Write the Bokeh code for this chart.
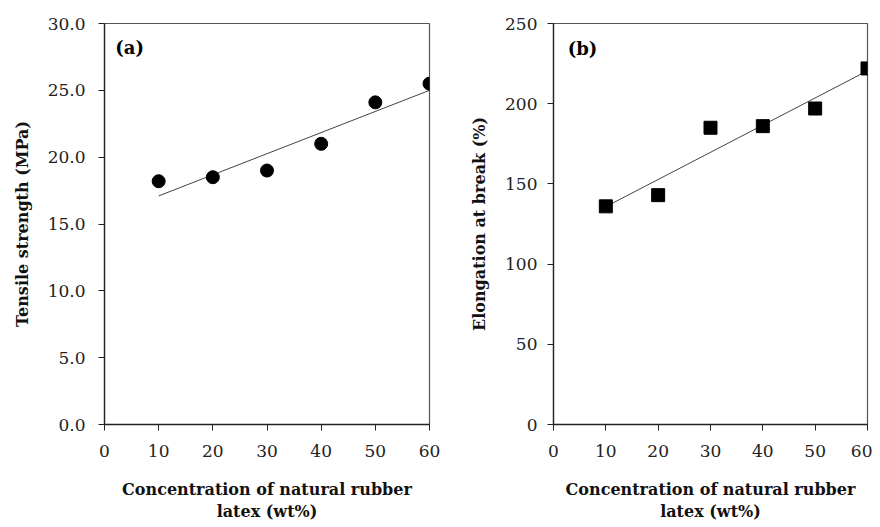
import numpy as np
from bokeh.plotting import figure
from bokeh.layouts import row
from bokeh.models import Range1d, FixedTicker, NumeralTickFormatter, Label
from bokeh.embed import file_html
from bokeh.resources import INLINE

conc = [10, 20, 30, 40, 50, 60]
tensile = [18.2, 18.5, 19.0, 21.0, 24.1, 25.5]
elong = [136, 143, 185, 186, 197, 222]
x_ticks = [0, 10, 20, 30, 40, 50, 60]
ya_ticks = [0, 5, 10, 15, 20, 25, 30]
yb_ticks = [0, 50, 100, 150, 200, 250]

SERIF = "DejaVu Serif"
XLABEL = "Concentration of natural rubber\nlatex (wt%)"


def style(p, yticks, fmt, ystand):
    p.grid.visible = False
    p.outline_line_color = "#555555"
    p.outline_line_width = 1.2
    p.xaxis.ticker = FixedTicker(ticks=x_ticks)
    p.yaxis.ticker = FixedTicker(ticks=yticks)
    p.yaxis.formatter = NumeralTickFormatter(format=fmt)
    for ax in (p.xaxis, p.yaxis):
        ax.axis_line_color = "#222222"
        ax.axis_line_width = 1.3
        ax.major_tick_line_color = "#222222"
        ax.major_tick_out = 6
        ax.major_tick_in = 0
        ax.minor_tick_line_color = None
        ax.major_label_text_font = SERIF
        ax.major_label_text_font_size = "17px"
        ax.major_label_text_color = "#222222"
        ax.axis_label_text_font = SERIF
        ax.axis_label_text_font_style = "bold"
        ax.axis_label_text_font_size = "16px"
        ax.axis_label_text_color = "#111111"
    p.xaxis.major_label_standoff = 14
    p.yaxis.major_label_standoff = ystand
    p.xaxis.axis_label_standoff = 20
    p.yaxis.axis_label_standoff = 13


def trend(x, y):
    k, b = np.polyfit(x, y, 1)
    xs = np.array([min(x), max(x)])
    return xs, k * xs + b


pa = figure(width=448, height=525, output_backend="svg", toolbar_location=None,
            x_range=Range1d(0, 60), y_range=Range1d(0, 30),
            min_border_left=104, min_border_right=19, min_border_top=22, min_border_bottom=101,
            x_axis_label=XLABEL, y_axis_label="Tensile strength (MPa)")
style(pa, ya_ticks, "0.0", 13)
tx, ty = trend(conc, tensile)
pa.line(tx, ty, line_color="#444444", line_width=1)
pa.scatter(conc, tensile, marker="circle", size=13, fill_color="black", line_color="black")
pa.add_layout(Label(x=2.0, y=29.0, text="(a)", text_font=SERIF, text_font_style="bold",
                    text_font_size="18px", text_baseline="top", text_color="black"))

pb = figure(width=424, height=525, output_backend="svg", toolbar_location=None,
            x_range=Range1d(0, 60), y_range=Range1d(0, 250),
            min_border_left=105, min_border_right=5, min_border_top=23, min_border_bottom=99,
            x_axis_label=XLABEL, y_axis_label="Elongation at break (%)")
style(pb, yb_ticks, "0", 10)
tx, ty = trend(conc, elong)
pb.line(tx, ty, line_color="#444444", line_width=1)
pb.scatter(conc, elong, marker="square", size=13, fill_color="black", line_color="black")
pb.add_layout(Label(x=2.7, y=241, text="(b)", text_font=SERIF, text_font_style="bold",
                    text_font_size="18px", text_baseline="top", text_color="black"))

layout = row(pa, pb)
open("out.html", "w").write(file_html(layout, INLINE))
